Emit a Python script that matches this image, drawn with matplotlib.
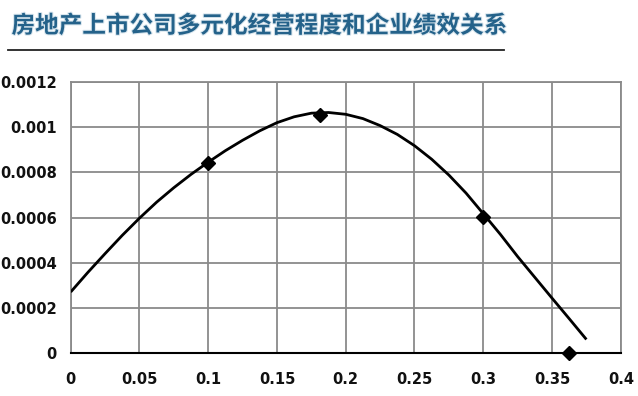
import matplotlib
matplotlib.use("Agg")
import matplotlib.pyplot as plt
import matplotlib.patheffects as pe

plt.rcParams['font.family'] = ['Noto Sans CJK SC', 'DejaVu Sans']

title = "房地产上市公司多元化经营程度和企业绩效关系"

# observed points
pts_x = [0.1, 0.181, 0.3, 0.3626]
pts_y = [0.000843, 0.001054, 0.000604, 0.0]

# trend curve
curve_x = [0, 0.0125, 0.025, 0.0375, 0.05, 0.0625, 0.075, 0.0875, 0.1,
           0.1125, 0.125, 0.1375, 0.15, 0.1625, 0.175, 0.1875, 0.2, 0.2125,
           0.225, 0.2375, 0.25, 0.2625, 0.275, 0.2875, 0.3, 0.3125, 0.325,
           0.3375, 0.35, 0.3625, 0.375]
curve_y = [0.000270, 0.000357, 0.000440, 0.000521, 0.000597, 0.000668,
           0.000732, 0.000791, 0.000845, 0.000896, 0.000942, 0.000984,
           0.001020, 0.001046, 0.001062, 0.001065, 0.001057, 0.001038,
           0.001007, 0.000968, 0.000918, 0.000858, 0.000788, 0.000708,
           0.000617, 0.000525, 0.000427, 0.000335, 0.000243, 0.000152,
           0.000060]

xticks = [0, 0.05, 0.1, 0.15, 0.2, 0.25, 0.3, 0.35, 0.4]
xtick_labels = ["0", "0.05", "0.1", "0.15", "0.2", "0.25", "0.3", "0.35", "0.4"]
yticks = [0, 0.0002, 0.0004, 0.0006, 0.0008, 0.001, 0.0012]
ytick_labels = ["0", "0.0002", "0.0004", "0.0006", "0.0008", "0.001", "0.0012"]

fig = plt.figure(figsize=(6.38, 3.96), dpi=100)
ax = fig.add_axes([0.1108, 0.1086, 0.8622, 0.6843])

ax.plot(curve_x, curve_y, color="black", lw=2.0, solid_capstyle="butt",
        solid_joinstyle="round", zorder=3)
ax.plot(pts_x, pts_y, linestyle="none", marker="D", color="black",
        markersize=7, zorder=4, clip_on=False)

ax.set_xlim(0, 0.4)
ax.set_ylim(0, 0.0012)
ax.set_xticks(xticks)
ax.set_xticklabels(xtick_labels)
ax.set_yticks(yticks)
ax.set_yticklabels(ytick_labels)
ax.grid(True, color="#8a8a8a", lw=1.3)
ax.set_axisbelow(True)
for s in ["top", "right", "left"]:
    ax.spines[s].set_color("#8a8a8a")
    ax.spines[s].set_linewidth(1.3)
ax.spines["bottom"].set_color("black")
ax.spines["bottom"].set_linewidth(1.5)
ax.tick_params(length=0, labelsize=10.5, pad=10)
ax.tick_params(axis="x", pad=14)
for lab in ax.get_xticklabels() + ax.get_yticklabels():
    lab.set_fontfamily(["DejaVu Sans"])
    lab.set_fontweight("bold")
    lab.set_color("#111111")

fig.text(0.018, 0.935, title, fontsize=17, fontweight="bold", color="#24628a",
         va="center", ha="left",
         path_effects=[pe.withStroke(linewidth=1.5, foreground="#d9e6ee")])
fig.add_artist(plt.Line2D([0.013, 0.79], [0.874, 0.874], color="#222222", lw=1.3))

fig.savefig("out.png", dpi=100)
